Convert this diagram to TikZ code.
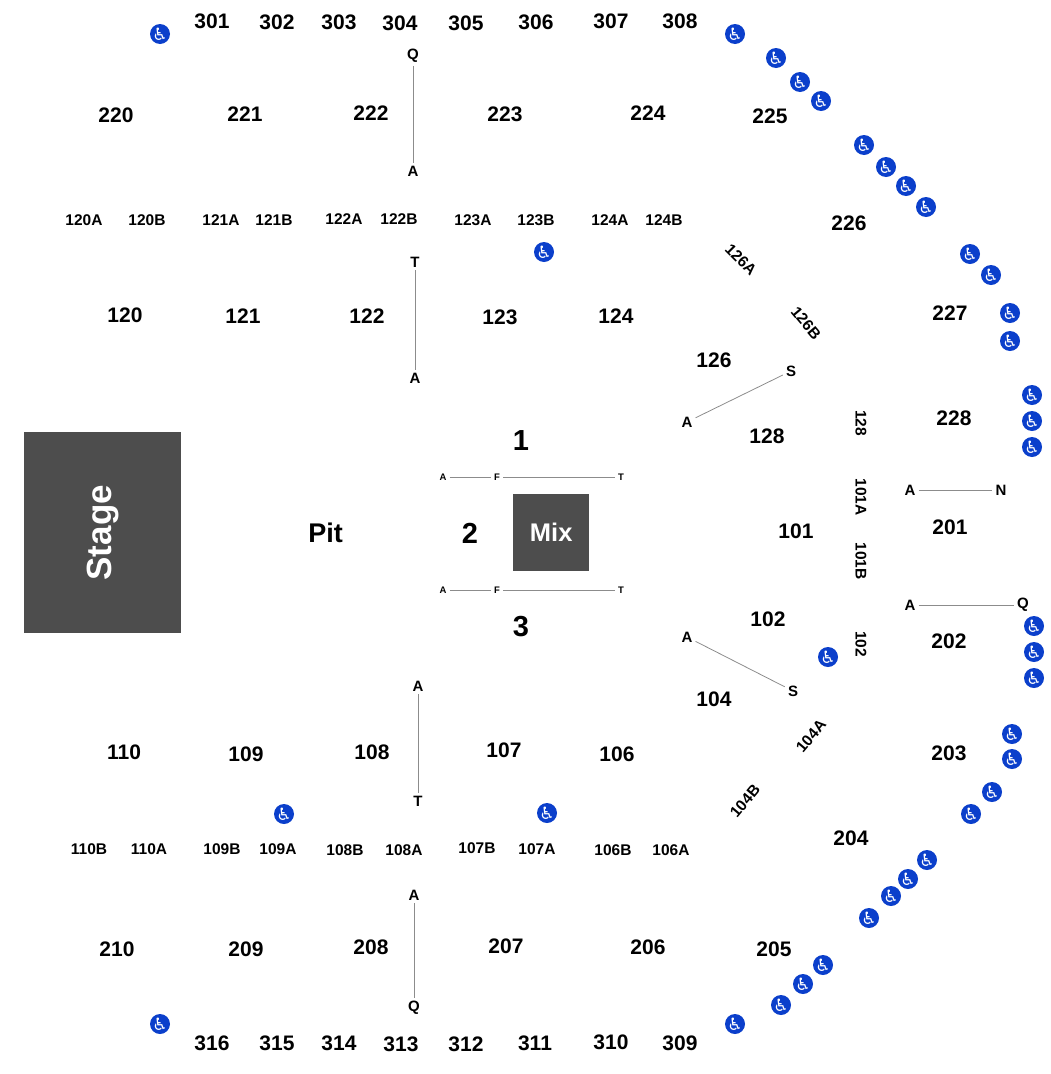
\documentclass[tikz,border=0pt]{standalone}
\usepackage{fontspec}
\setmainfont{Liberation Sans}
\newfontfamily\iconfont{DejaVu Sans}
\definecolor{blockgray}{HTML}{4D4D4D}
\definecolor{rowline}{HTML}{8C8C8C}
\definecolor{chairblue}{HTML}{0B3FCB}
\tikzset{
  seclabel/.style={font=\fontsize{21}{21}\selectfont\bfseries, inner sep=0pt},
  sublabel/.style={font=\fontsize{15.5}{16}\selectfont\bfseries, inner sep=0pt},
  rowlabel/.style={font=\fontsize{15}{15}\selectfont\bfseries, inner sep=3pt},
  tinylabel/.style={font=\fontsize{9.5}{10}\selectfont\bfseries, inner sep=3pt},
  aislelabel/.style={font=\fontsize{29}{29}\selectfont\bfseries, inner sep=0pt},
  rowline/.style={draw=rowline, line width=.8pt},
  block/.style={fill=blockgray, text=white, font=\bfseries, inner sep=0pt, anchor=north west},
  chair/.style={circle, fill=chairblue, text=white, minimum size=20pt, inner sep=0pt,
    font=\iconfont\fontsize{17}{17}\selectfont}
}
\begin{document}
\begin{tikzpicture}[x=1pt,y=-1pt]
\useasboundingbox (0,0) rectangle (1050,1074);

% blocks
\node[block, minimum width=157pt, minimum height=201pt] (stage) at (24,432) {};
\node[white, font=\fontsize{35}{35}\selectfont\bfseries, rotate=90] (stagetext) at (stage.center) {Stage};
\node[block, minimum width=76pt, minimum height=77pt, font=\fontsize{25.5}{26}\selectfont\bfseries] (mix) at (513,494) {Mix};
\node[font=\fontsize{27}{27}\selectfont\bfseries, inner sep=0pt] (pit) at (325.5,533) {Pit};

% sections
\foreach \name/\x/\y in {301/212/21,302/277/22,303/339/22,304/400/23,305/466/23,306/536/22,307/611/21,308/680/21,
  220/116/115,221/245/114,222/371/113,223/505/114,224/648/113,225/770/116,226/849/223,227/950/313,228/954/418,
  120/125/315,121/243/316,122/367/316,123/500/317,124/616/316,126/714/360,
  201/950/527,202/949/641,203/949/753,204/851/838,205/774/949,
  110/124/752,109/246/754,108/372/752,107/504/750,106/617/754,104/714/699,
  210/117/949,209/246/949,208/371/947,207/506/946,206/648/947,
  316/212/1043,315/277/1043,314/339/1043,313/401/1044,312/466/1044,311/535/1043,310/611/1042,309/680/1043}
  \node[seclabel] (s\name) at (\x,\y) {\name};
\node[seclabel] (floorA) at (767,436) {128};
\node[seclabel] (floorB) at (796,531) {101};
\node[seclabel] (floorC) at (768,619) {102};

% sub sections
\foreach \name/\x/\y in {120A/84/220,120B/147/220,121A/221/220,121B/274/220,122A/344/219,122B/399/219,
  123A/473/220,123B/536/220,124A/610/220,124B/664/220,
  110B/89/849,110A/149/849,109B/222/849,109A/278/849,108B/345/850,108A/404/850,
  107B/477/848,107A/537/849,106B/613/850,106A/671/850}
  \node[sublabel] (b\name) at (\x,\y) {\name};
\foreach \name/\x/\y/\ang in {126A/741/260/-45,126B/806/323/-50,101A/861/497/-90,101B/861/561/-90,
  104A/811/736/50,104B/745/801/50}
  \node[sublabel, rotate=\ang] (b\name) at (\x,\y) {\name};
\node[sublabel, rotate=-90] (sideA) at (861,423) {128};
\node[sublabel, rotate=-90] (sideB) at (861,644) {102};

% aisles
\node[aislelabel] (one) at (521,441) {1};
\node[aislelabel] (two) at (470,533) {2};
\node[aislelabel] (three) at (521,627) {3};

% rows
\node[rowlabel] (q1) at (413,56) {Q};
\node[rowlabel] (a1) at (413,171) {A};
\node[rowlabel] (t2) at (415,262) {T};
\node[rowlabel] (a2) at (415,378) {A};
\node[rowlabel] (s3) at (791,371) {S};
\node[rowlabel] (a3) at (687,422) {A};
\node[rowlabel] (a4) at (910,490) {A};
\node[rowlabel] (n4) at (1001,490) {N};
\node[rowlabel] (a5) at (910,605) {A};
\node[rowlabel] (q5) at (1023,605) {Q};
\node[rowlabel] (a6) at (687,637) {A};
\node[rowlabel] (s6) at (793,691) {S};
\node[rowlabel] (a7) at (418,686) {A};
\node[rowlabel] (t7) at (418,801) {T};
\node[rowlabel] (a8) at (414,895) {A};
\node[rowlabel] (q8) at (414,1008) {Q};
\foreach \n/\y in {up/477,down/590}{
  \node[tinylabel] (a\n) at (443,\y) {A};
  \node[tinylabel] (f\n) at (497,\y) {F};
  \node[tinylabel] (t\n) at (621,\y) {T};
  \draw[rowline] (a\n) -- (f\n);
  \draw[rowline] (f\n) -- (t\n);
}
\draw[rowline] (q1) -- (a1);
\draw[rowline] (t2) -- (a2);
\draw[rowline] (s3) -- (a3);
\draw[rowline] (a4) -- (n4);
\draw[rowline] (a5) -- (q5);
\draw[rowline] (a6) -- (s6);
\draw[rowline] (a7) -- (t7);
\draw[rowline] (a8) -- (q8);

% wheelchair spots
\foreach \x/\y [count=\i] in {160/34,735/34,776/58,800/82,821/101,864/145,886/167,906/186,926/207,
  970/254,991/275,1010/313,1010/341,1032/395,1032/421,1032/447,544/252,828/657,
  1034/626,1034/652,1034/678,1012/734,1012/759,992/792,971/814,284/814,547/813,
  927/860,908/879,891/896,869/918,823/965,803/984,781/1005,735/1024,160/1024}
  \node[chair] (c\i) at (\x,\y) {\symbol{"267F}};
\end{tikzpicture}
\end{document}
